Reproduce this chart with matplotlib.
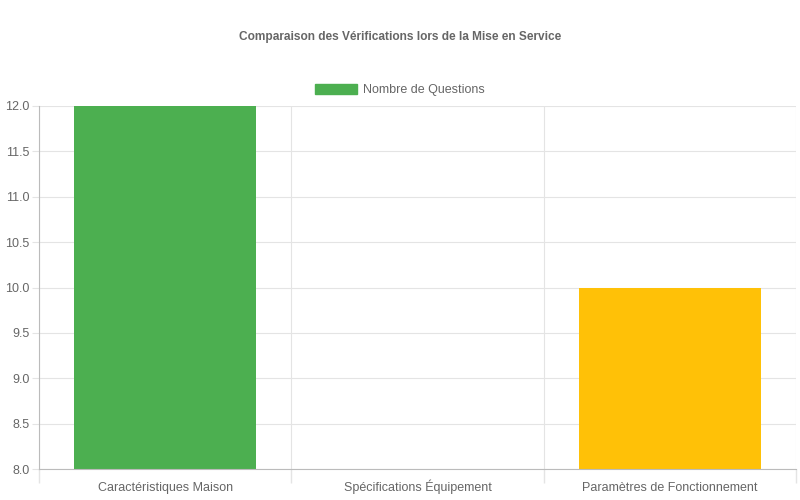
import matplotlib.pyplot as plt
import numpy as np
from matplotlib.patches import Patch

plt.rcParams['font.family'] = ['Liberation Sans', 'DejaVu Sans']

categories = ['Caractéristiques Maison', 'Spécifications Équipement', 'Paramètres de Fonctionnement']
questions = [12, 8, 10]
colors = ['#4CAF50', '#2196F3', '#FFC107']

fig = plt.figure(figsize=(8, 5), dpi=100)
ax = fig.add_axes([39 / 800, 1 - 469 / 500, 757 / 800, 363 / 500])

x = np.arange(len(categories))
ax.bar(x, np.array(questions) - 8, bottom=8, width=0.72, color=colors, zorder=2)

ax.set_xlim(-0.5, len(categories) - 0.5)
ax.set_ylim(8, 12)
ax.set_yticks(np.arange(8, 12.01, 0.5))
ax.set_yticklabels([f'{v:.1f}' for v in np.arange(8, 12.01, 0.5)])
ax.set_xticks(x)
ax.set_xticklabels(categories)
for lbl in ax.get_xticklabels():
    lbl.set_va('baseline')

ax.set_xticks(np.arange(-0.5, len(categories)), minor=True)
ax.tick_params(axis='x', which='major', length=0, pad=16, labelsize=9, labelcolor='#666666')
ax.tick_params(axis='x', which='minor', length=10, color='#e4e4e4', width=1)
ax.tick_params(axis='y', length=5, color='#e4e4e4', labelsize=9, labelcolor='#666666', pad=2)
ax.grid(axis='y', color='#e4e4e4', linewidth=0.8, zorder=0)
ax.grid(axis='x', which='minor', color='#e4e4e4', linewidth=0.8, zorder=0)

for side in ['top', 'right']:
    ax.spines[side].set_visible(False)
ax.spines['left'].set_color('#bbbbbb')
ax.spines['bottom'].set_color('#bbbbbb')

fig.text(0.5, 1 - 37 / 500, 'Comparaison des Vérifications lors de la Mise en Service',
         ha='center', va='center', fontsize=8.6, fontweight='bold', color='#666666')

handle = Patch(facecolor=colors[0], edgecolor=colors[0])
fig.legend([handle], ['Nombre de Questions'], loc='center', bbox_to_anchor=(0.5, 1 - 90 / 500),
           frameon=False, fontsize=9, labelcolor='#666666', handlelength=3.3, handleheight=0.9,
           handletextpad=0.5)

fig.savefig('out.png', dpi=100)
